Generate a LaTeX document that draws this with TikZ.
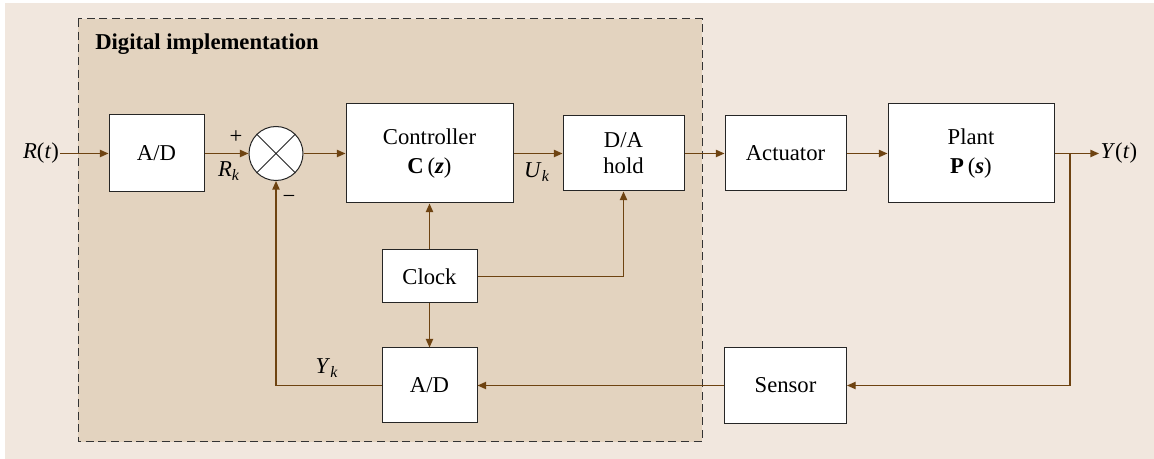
\documentclass[tikz,border=0pt]{standalone}
\usepackage{fontspec}
\setmainfont{Liberation Serif}
\usetikzlibrary{arrows.meta,positioning}
\definecolor{bgpage}{HTML}{F1E7DE}
\definecolor{digital}{HTML}{E3D3BF}
\definecolor{wire}{HTML}{6E4311}

\begin{document}
\begin{tikzpicture}[x=0.75pt,y=-0.75pt,font=\fontsize{17}{19.5}\selectfont,
  blk/.style={draw=black!85,fill=white,line width=0.75pt,align=center,inner sep=0pt},
  sumc/.style={circle,draw=black!85,fill=white,line width=0.75pt,minimum size=40.5pt,inner sep=0pt},
  arr/.style={-{Triangle[length=6.5pt,width=5.5pt]},line width=1pt,wire},
  lbl/.style={inner sep=1pt}]
\useasboundingbox (0,0) rectangle (1154,459);
\fill[bgpage] (5,3) rectangle (1154,459);
\draw[fill=digital,draw=black!80,line width=0.75pt,dash pattern=on 6pt off 3.5pt] (78,19) rectangle (702,442);
\node[anchor=west,inner sep=0pt] (title) at (95,44) {\textbf{Digital implementation}};
% forward path
\node[blk,minimum width=71.25pt,minimum height=57.75pt] (adin) at (156.5,153.5) {A/D};
\node[sumc,right=33pt of adin] (sum) {};
\draw[line width=0.75pt,black!85] (sum.north west)--(sum.south east) (sum.north east)--(sum.south west);
\node[blk,minimum width=125.25pt,minimum height=74.25pt,right=31.5pt of sum] (ctrl) {Controller\\[2pt]\textbf{C}\,(\textbf{\textit{z}})};
\node[blk,minimum width=90.75pt,minimum height=56.25pt,right=36.75pt of ctrl] (dah) {D/A\\hold};
\node[blk,minimum width=90.75pt,minimum height=56.25pt,right=30pt of dah] (act) {Actuator};
\node[blk,minimum width=124.5pt,minimum height=74.25pt,right=30.75pt of act] (plant) {Plant\\[2pt]\textbf{P}\,(\textbf{\textit{s}})};
% clock and feedback
\node[blk,minimum width=71.25pt,minimum height=39.75pt,below=34.5pt of ctrl] (clock) {Clock};
\node[blk,minimum width=71.25pt,minimum height=56.25pt,below=33pt of clock] (adfb) {A/D};
\node[blk,minimum width=91.5pt,minimum height=57pt] (sensor) at (act |- adfb) {Sensor};
% signals
\node[lbl] (rin) at (41,153.5) {\textit{R}(\textit{t})};
\node[lbl,anchor=west] (yout) at (1099,153.5) {\textit{Y}(\textit{t})};
\coordinate (br) at (1070,153.5);
\node[lbl] (plus) at (236,137) {+};
\node[lbl] (rk) at (229,171) {\textit{R}\textsubscript{\textit{k}}};
\node[lbl] (minus) at (289,199) {−};
\node[lbl] (uk) at (537,172) {\textit{U}\textsubscript{\textit{k}}};
\node[lbl] (yk) at (327,368) {\textit{Y}\textsubscript{\textit{k}}};
\draw[arr] (rin)--(adin);
\draw[arr] (adin)--(sum);
\draw[arr] (sum)--(ctrl);
\draw[arr] (ctrl)--(dah);
\draw[arr] (dah)--(act);
\draw[arr] (act)--(plant);
\draw[arr] (plant)--(yout);
\draw[arr] (br) |- (sensor);
\draw[arr] (sensor)--(adfb);
\draw[arr] (adfb.west) -| (sum.south);
\draw[arr] (clock)--(ctrl);
\draw[arr] (clock)--(adfb);
\draw[arr] (clock.east) -| (dah.south);
\end{tikzpicture}
\end{document}
